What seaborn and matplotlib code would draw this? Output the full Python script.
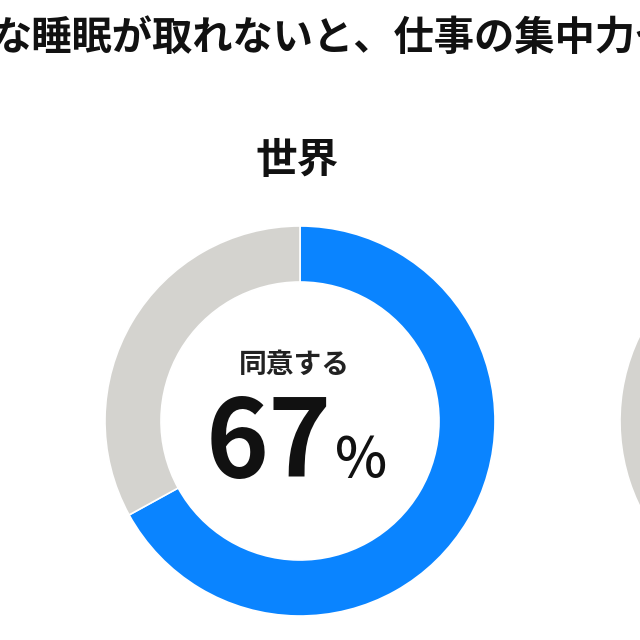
import matplotlib
matplotlib.use("Agg")
import matplotlib.pyplot as plt
import seaborn as sb

# data (second donut is cut off at the right edge,
# only its grey part shows, so its agree share is just an estimate below 68)
title = "な睡眠が取れないと、仕事の集中力や"
regions = ["世界", "日本"]
agree = [67, 40]
label = "同意する"

blue = "#0a84ff"
grey = "#d4d3cf"

sb.set_theme(style="white")
plt.rcParams["font.family"] = ["Noto Sans CJK JP", "DejaVu Sans"]

fig = plt.figure(figsize=(6.4, 6.4), dpi=100)
ax = fig.add_axes([0, 0, 1, 1])

# pixel-like coordinates, y measured from the top of the picture
H = 640
centers_x = [300, 815]
cy = 421
r_out = 195
ring = 56

for i, (reg, val) in enumerate(zip(regions, agree)):
    cx = centers_x[i]
    ax.pie([val, 100 - val], colors=[blue, grey], startangle=90, counterclock=False,
           center=(cx, H - cy), radius=r_out,
           wedgeprops=dict(width=ring, edgecolor="white", linewidth=1.2))
    if cx > 640:
        # this panel's texts sit outside the cropped picture
        continue
    ax.text(cx - 3, H - 161, reg, ha="center", va="center", fontsize=30, fontweight="bold",
            color="#111111")
    ax.text(cx - 6, H - 365, label, ha="center", va="center", fontsize=20, fontweight="bold",
            color="#222222")
    ax.text(cx + 32, H - 477, str(val), ha="right", va="baseline", fontsize=77,
            fontweight="bold", color="#111111")
    ax.text(cx + 35, H - 477, "%", ha="left", va="baseline", fontsize=40,
            fontweight="medium", color="#111111")

ax.text(-9, H - 38, title, ha="left", va="center", fontsize=29, fontweight="bold",
        color="#111111")

ax.set_xlim(0, 640)
ax.set_ylim(0, 640)
ax.set_aspect("auto")
ax.axis("off")

fig.savefig("out.png", dpi=100, facecolor="white")
